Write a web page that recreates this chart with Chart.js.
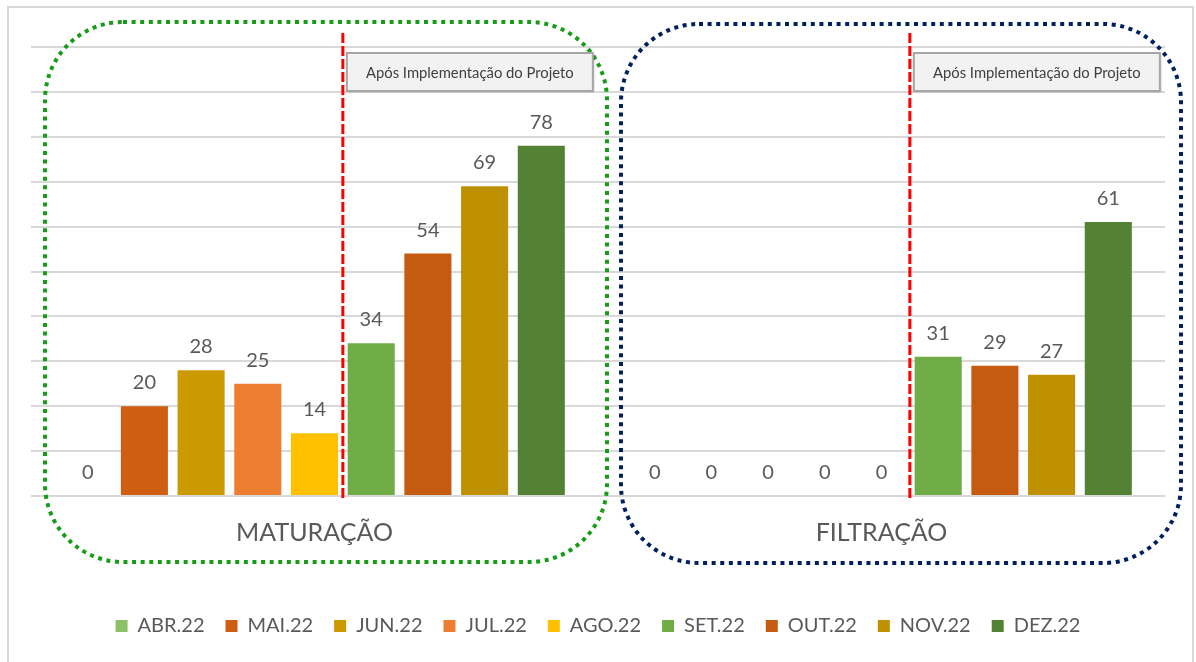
<!DOCTYPE html>
<html>
<head>
<meta charset="utf-8">
<script src="https://cdn.jsdelivr.net/npm/chart.js@4/dist/chart.umd.min.js"></script>
<style>
  html, body { margin: 0; padding: 0; background: #ffffff; }
  canvas { display: block; }
</style>
</head>
<body>
<canvas id="chart" width="1196" height="662"></canvas>
<script>
// Process areas shown on the x axis
const categories = ['MATURAÇÃO', 'FILTRAÇÃO'];

// Months of 2022 (one bar series each)
const months = ['ABR.22', 'MAI.22', 'JUN.22', 'JUL.22', 'AGO.22', 'SET.22', 'OUT.22', 'NOV.22', 'DEZ.22'];

// Values per month for each area
const maturacao = [0, 20, 28, 25, 14, 34, 54, 69, 78];
const filtracao = [0, 0, 0, 0, 0, 31, 29, 27, 61];

// Bar colour per month
const monthColors = ['#8CC168', '#D05E12', '#CC9900', '#ED7D31', '#FFC000', '#70AD47', '#C55A11', '#BF9000', '#548235'];

// Value axis range
const yMin = 0;
const yMax = 100;
const yStep = 10;

// Project start marker
const firstProjectMonth = 'SET.22';
const noteText = 'Após Implementação do Projeto';

const FONT = 'Lato, "Open Sans", sans-serif';
const TEXT_GRAY = '#595959';

const datasets = months.map((m, i) => ({
  label: m,
  data: [maturacao[i], filtracao[i]],
  backgroundColor: monthColors[i],
  borderWidth: 0,
  barPercentage: 0.83,
  categoryPercentage: 0.9
}));

// Value labels above every bar
const valueLabels = {
  id: 'valueLabels',
  afterDatasetsDraw(chart) {
    const ctx = chart.ctx;
    ctx.save();
    ctx.font = '20px ' + FONT;
    ctx.fillStyle = TEXT_GRAY;
    ctx.textAlign = 'center';
    ctx.textBaseline = 'alphabetic';
    chart.data.datasets.forEach((ds, di) => {
      const meta = chart.getDatasetMeta(di);
      meta.data.forEach((bar, i) => {
        ctx.fillText(String(ds.data[i]), bar.x, bar.y - 17);
      });
    });
    ctx.restore();
  }
};

// Page frame, dotted area outlines, project start lines and notes
const decorations = {
  id: 'decorations',
  beforeDraw(chart) {
    const ctx = chart.ctx;
    ctx.save();
    ctx.fillStyle = '#ffffff';
    ctx.fillRect(0, 0, chart.width, chart.height);
    ctx.strokeStyle = '#D9D9D9';
    ctx.lineWidth = 2;
    ctx.beginPath();
    ctx.moveTo(8, chart.height);
    ctx.lineTo(8, 7);
    ctx.lineTo(1193, 7);
    ctx.lineTo(1193, chart.height);
    ctx.stroke();
    ctx.restore();
  },
  afterDraw(chart) {
    const ctx = chart.ctx;
    const xs = chart.scales.x;
    const area = chart.chartArea;
    const half = (xs.getPixelForValue(1) - xs.getPixelForValue(0)) / 2;

    // dotted rounded outlines around each area
    const frames = [
      { color: '#179C17', l: 14, r: 9, t: 25, b: 66 },
      { color: '#002060', l: 23, r: 16, t: 23, b: 67 }
    ];
    frames.forEach((f, i) => {
      const c = xs.getPixelForValue(i);
      const x0 = c - half + f.l;
      const x1 = c + half + f.r;
      const y0 = area.top - f.t;
      const y1 = area.bottom + f.b;
      ctx.save();
      ctx.strokeStyle = f.color;
      ctx.lineWidth = 4;
      ctx.setLineDash([4, 4.6]);
      ctx.beginPath();
      ctx.roundRect(x0, y0, x1 - x0, y1 - y0, 78);
      ctx.stroke();
      ctx.restore();
    });

    // red dashed line before the first project month, with note box
    const startIdx = months.indexOf(firstProjectMonth);
    categories.forEach((cat, i) => {
      const prev = chart.getDatasetMeta(startIdx - 1).data[i];
      const next = chart.getDatasetMeta(startIdx).data[i];
      const lx = ((prev.x + prev.width / 2) + (next.x - next.width / 2)) / 2;
      ctx.save();
      ctx.strokeStyle = '#FF0000';
      ctx.lineWidth = 3;
      ctx.setLineDash([10, 3]);
      ctx.beginPath();
      ctx.moveTo(lx, area.top - 14);
      ctx.lineTo(lx, area.bottom + 5);
      ctx.stroke();
      ctx.restore();

      const bx = lx + 4, by = area.top + 6, bw = 246, bh = 38;
      ctx.save();
      ctx.shadowColor = 'rgba(0,0,0,0.25)';
      ctx.shadowBlur = 2;
      ctx.shadowOffsetX = 1;
      ctx.shadowOffsetY = 1;
      ctx.fillStyle = '#F2F2F2';
      ctx.fillRect(bx, by, bw, bh);
      ctx.restore();
      ctx.save();
      ctx.strokeStyle = '#A6A6A6';
      ctx.lineWidth = 2;
      ctx.strokeRect(bx, by, bw, bh);
      ctx.fillStyle = '#404040';
      ctx.font = '14.8px ' + FONT;
      ctx.textAlign = 'center';
      ctx.textBaseline = 'middle';
      ctx.fillText(noteText, bx + bw / 2, by + bh / 2 + 1);
      ctx.restore();
    });
  }
};

new Chart(document.getElementById('chart'), {
  type: 'bar',
  data: { labels: categories, datasets: datasets },
  plugins: [decorations, valueLabels],
  options: {
    responsive: false,
    animation: false,
    events: [],
    layout: { padding: { left: 31, right: 31, top: 47, bottom: 16 } },
    plugins: {
      legend: {
        position: 'bottom',
        labels: {
          boxWidth: 12,
          boxHeight: 12,
          padding: 21,
          color: TEXT_GRAY,
          font: { family: FONT, size: 20 }
        }
      },
      tooltip: { enabled: false }
    },
    scales: {
      x: {
        grid: { display: false, drawTicks: false },
        border: { display: false },
        ticks: {
          color: TEXT_GRAY,
          padding: 22,
          font: { family: FONT, size: 25 }
        },
        afterFit(scale) { scale.height = 99; }
      },
      y: {
        min: yMin,
        max: yMax,
        grid: { color: '#D9D9D9', lineWidth: 2, drawTicks: false },
        border: { display: false },
        ticks: { display: false, stepSize: yStep }
      }
    }
  }
});
</script>
</body>
</html>
